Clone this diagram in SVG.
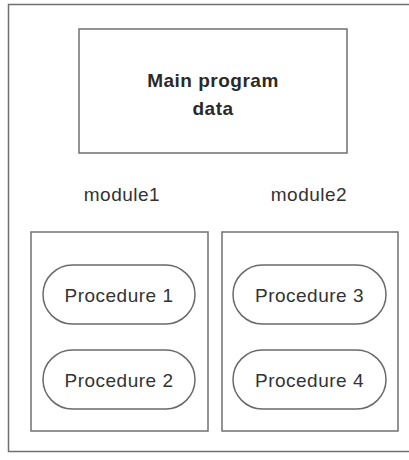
<svg xmlns="http://www.w3.org/2000/svg" width="409" height="460" viewBox="0 0 409 460">
<style>
.box{fill:#fff;stroke:#707070;stroke-width:1.5}
.pill{fill:#fff;stroke:#6a6a6a;stroke-width:1.5}
.t{font-family:"Liberation Sans",Arial,sans-serif;font-size:19px;fill:#333;text-anchor:middle;letter-spacing:0.5px}
.b{font-weight:bold;fill:#2a2a2a}
</style>
<rect width="409" height="460" fill="#fff"/>
<g id="frame"><rect class="box" x="8.5" y="4.5" width="410" height="447"/></g>
<g id="main"><rect class="box" x="79" y="29" width="268" height="124"/>
<text class="t b" x="213" y="87">Main program</text>
<text class="t b" x="213" y="115">data</text></g>
<g id="label1"><text class="t" x="122" y="201">module1</text></g>
<g id="label2"><text class="t" x="309" y="201">module2</text></g>
<g id="module1"><rect class="box" x="31" y="232" width="177" height="199"/></g>
<g id="module2"><rect class="box" x="222" y="232" width="176" height="199"/></g>
<g id="proc1"><rect class="pill" x="43" y="265" width="152" height="59" rx="29.5"/><text class="t" x="119" y="301.5">Procedure 1</text></g>
<g id="proc2"><rect class="pill" x="43" y="350" width="152" height="59" rx="29.5"/><text class="t" x="119" y="386.5">Procedure 2</text></g>
<g id="proc3"><rect class="pill" x="233" y="265" width="153" height="59" rx="29.5"/><text class="t" x="309.5" y="301.5">Procedure 3</text></g>
<g id="proc4"><rect class="pill" x="233" y="350" width="153" height="59" rx="29.5"/><text class="t" x="309.5" y="386.5">Procedure 4</text></g>
<g id="connectors"></g>
</svg>
